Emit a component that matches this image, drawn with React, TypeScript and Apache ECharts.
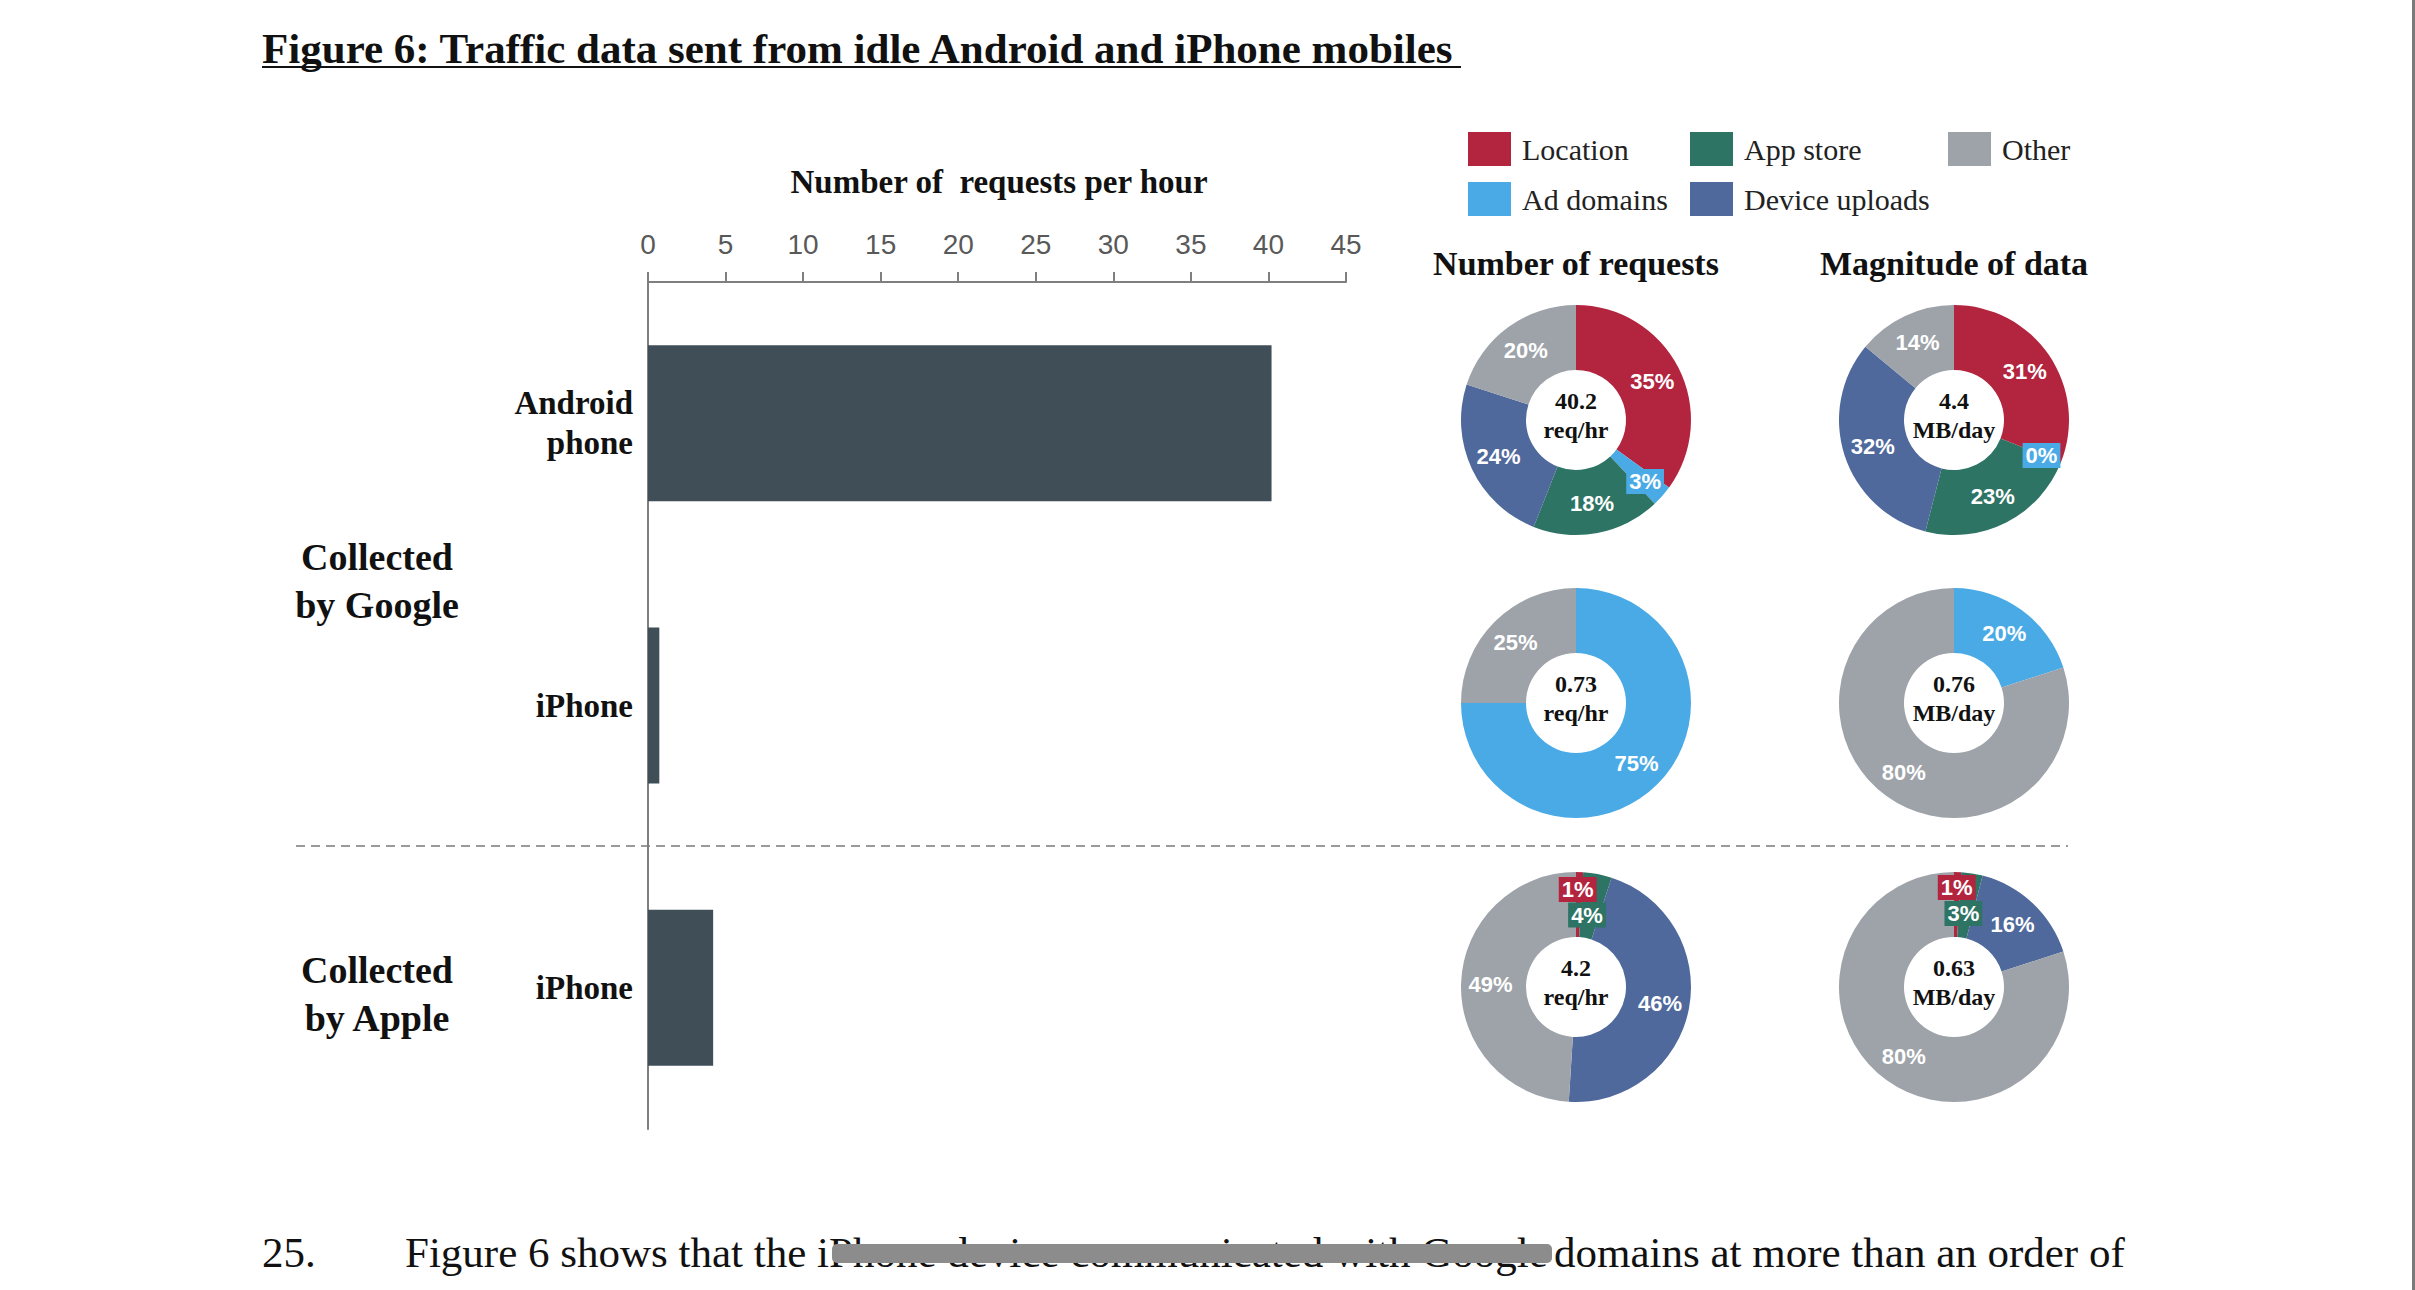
import React, { useEffect, useRef } from "react";
import * as echarts from "echarts";

// ---------- data ----------
const devices = ["Android phone", "iPhone (Google)", "iPhone (Apple)"];
const deviceLabels = ["Android\nphone", "iPhone", "iPhone"];
const requestsPerHour = [40.2, 0.73, 4.2];
const axisMin = 0;
const axisMax = 45;
const axisStep = 5;

const categories = ["Location", "Ad domains", "App store", "Device uploads", "Other"];
// null = category not present in that chart; 0 = present but rounds to 0%
const googleAndroidRequests = [35, 3, 18, 24, 20];
const googleAndroidData = [31, 0, 23, 32, 14];
const googleIphoneRequests = [null, 75, null, null, 25];
const googleIphoneData = [null, 20, null, null, 80];
const appleIphoneRequests = [1, null, 4, 46, 49];
const appleIphoneData = [1, null, 3, 16, 80];

const pieTotals = ["40.2", "4.4", "0.73", "0.76", "4.2", "0.63"];
const pieUnits = ["req/hr", "MB/day", "req/hr", "MB/day", "req/hr", "MB/day"];
const pieColumnTitles = ["Number of requests", "Magnitude of data"];
const groupLabels = ["Collected\nby Google", "Collected\nby Apple"];

// ---------- styling ----------
const SERIF = "'Liberation Serif', 'Times New Roman', serif";
const SANS = "'Liberation Sans', Arial, sans-serif";
const catColors = ["#B3243F", "#4AAAE6", "#2D7464", "#4F699C", "#9EA3A9"];
const barColor = "#404E58";
const axisColor = "#7F7F7F";

const pieCols = [1576, 1954];
const pieRows = [420, 703, 987];
const pieRadius = [50, 115];

// small label nudges [pieIndex-category] -> [dx, dy]
const labelNudges: Record<string, [number, number]> = {
  "0-Ad domains": [5, 5],
  "1-Ad domains": [8, 4],
  "4-Location": [-1, -12],
  "4-App store": [-5, 12],
  "5-Location": [0, -14],
  "5-App store": [-4, 11],
};

const pieSets = [
  googleAndroidRequests,
  googleAndroidData,
  googleIphoneRequests,
  googleIphoneData,
  appleIphoneRequests,
  appleIphoneData,
];

function buildPie(values: (number | null)[], idx: number) {
  const items = categories
    .map((name, i) => ({ name, value: values[i], color: catColors[i] }))
    .filter((d) => d.value !== null);
  const cx = pieCols[idx % 2];
  const cy = pieRows[Math.floor(idx / 2)];
  return {
    type: "pie",
    silent: true,
    center: [cx, cy],
    radius: pieRadius,
    startAngle: 90,
    clockwise: true,
    avoidLabelOverlap: false,
    emphasis: { disabled: true },
    labelLine: { show: false },
    label: {
      show: true,
      position: "inside",
      formatter: "{c}%",
      color: "#ffffff",
      fontFamily: SANS,
      fontWeight: "bold",
      fontSize: 22,
    },
    labelLayout: (params: any) => {
      const it = items[params.dataIndex];
      const n = it ? labelNudges[`${idx}-${it.name}`] : undefined;
      return n ? { dx: n[0], dy: n[1] } : {};
    },
    data: items.map((d) => ({
      name: d.name,
      value: d.value,
      itemStyle: { color: d.color },
      label:
        (d.value as number) < 5
          ? { backgroundColor: d.color, padding: [2, 3, 1, 3] }
          : undefined,
    })),
  };
}

function legendCol(names: string[], left: number) {
  return {
    data: names,
    left,
    top: 132,
    orient: "vertical",
    selectedMode: false,
    icon: "rect",
    itemWidth: 43,
    itemHeight: 34,
    itemGap: 16,
    padding: 0,
    textStyle: { fontFamily: SERIF, fontSize: 30, color: "#222", padding: [0, 0, 0, 6] },
  };
}

function txt(text: string, x: number, y: number, font: string, align = "center", extra: any = {}) {
  return {
    type: "text",
    x,
    y,
    silent: true,
    style: {
      text,
      font,
      fill: "#111",
      align,
      verticalAlign: "middle",
      textAlign: align,
      textVerticalAlign: "middle",
      ...extra,
    },
  };
}

function buildOption() {
  const graphics: any[] = [];
  // title + underline
  graphics.push(txt("Figure 6: Traffic data sent from idle Android and iPhone mobiles", 262, 48, `bold 43px ${SERIF}`, "left"));
  graphics.push({ type: "line", silent: true, shape: { x1: 262, y1: 67, x2: 1461, y2: 67 }, style: { stroke: "#111", lineWidth: 2 } });
  // axis title
  graphics.push(txt("Number of  requests per hour", 999, 182, `bold 33px ${SERIF}`));
  // group labels
  graphics.push(txt(groupLabels[0], 377, 581, `bold 38px ${SERIF}`, "center", { lineHeight: 48 }));
  graphics.push(txt(groupLabels[1], 377, 994, `bold 38px ${SERIF}`, "center", { lineHeight: 48 }));
  // pie column titles
  pieColumnTitles.forEach((t, i) => graphics.push(txt(t, pieCols[i], 263, `bold 34px ${SERIF}`)));
  // pie centre texts
  pieTotals.forEach((t, i) => {
    const cx = pieCols[i % 2];
    const cy = pieRows[Math.floor(i / 2)];
    graphics.push(txt(`${t}\n${pieUnits[i]}`, cx, cy - 5, `bold 24px ${SERIF}`, "center", { lineHeight: 29 }));
  });
  // dashed separator
  graphics.push({
    type: "line",
    silent: true,
    shape: { x1: 296, y1: 846, x2: 2068, y2: 846 },
    style: { stroke: "#9A9A9A", lineWidth: 2, lineDash: [9, 6] },
  });
  // paragraph below
  graphics.push(txt("25.", 262, 1252, `43px ${SERIF}`, "left"));
  graphics.push(txt("Figure 6 shows that the iPhone device communicated with Google", 405, 1252, `43px ${SERIF}`, "left"));
  graphics.push({ type: "rect", silent: true, shape: { x: 832, y: 1244, width: 720, height: 19, r: 5 }, style: { fill: "#8C8C8C" } });
  graphics.push({ type: "rect", silent: true, shape: { x: 1552, y: 1220, width: 600, height: 60 }, style: { fill: "#ffffff" } });
  graphics.push(txt("domains at more than an order of", 1554, 1252, `43px ${SERIF}`, "left"));
  // page edge
  graphics.push({ type: "line", silent: true, shape: { x1: 2413.5, y1: 0, x2: 2413.5, y2: 1290 }, style: { stroke: "#7A7A7A", lineWidth: 3 } });

  return {
    animation: false,
    backgroundColor: "#ffffff",
    grid: { left: 648, top: 282, width: 698, height: 847, containLabel: false },
    xAxis: {
      type: "value",
      position: "top",
      min: axisMin,
      max: axisMax,
      interval: axisStep,
      axisLine: { show: true, lineStyle: { color: axisColor, width: 2 } },
      axisTick: { show: true, length: 10, lineStyle: { color: axisColor, width: 2 } },
      axisLabel: { fontFamily: SANS, fontSize: 28, color: "#595959", margin: 24 },
      splitLine: { show: false },
    },
    yAxis: {
      type: "category",
      inverse: true,
      data: devices,
      axisLine: { show: true, lineStyle: { color: axisColor, width: 2 } },
      axisTick: { show: false },
      axisLabel: {
        formatter: (_v: string, i: number) => deviceLabels[i],
        fontFamily: SERIF,
        fontWeight: "bold",
        fontSize: 33,
        lineHeight: 40,
        color: "#111",
        margin: 15,
      },
    },
    legend: [
      legendCol([categories[0], categories[1]], 1468),
      legendCol([categories[2], categories[3]], 1690),
      legendCol([categories[4]], 1948),
    ],
    series: [
      {
        type: "bar",
        silent: true,
        data: requestsPerHour,
        barWidth: 156,
        itemStyle: { color: barColor },
      },
      ...pieSets.map((v, i) => buildPie(v, i)),
    ],
    graphic: graphics,
  };
}

export default function App() {
  const ref = useRef<HTMLDivElement>(null);
  useEffect(() => {
    const chart = echarts.init(ref.current!, null, { renderer: "svg" });
    chart.setOption(buildOption() as any);
    return () => chart.dispose();
  }, []);
  return (
    <div
      ref={ref}
      style={{ position: "absolute", left: 0, top: 0, width: 2415, height: 1290, background: "#fff" }}
    />
  );
}
